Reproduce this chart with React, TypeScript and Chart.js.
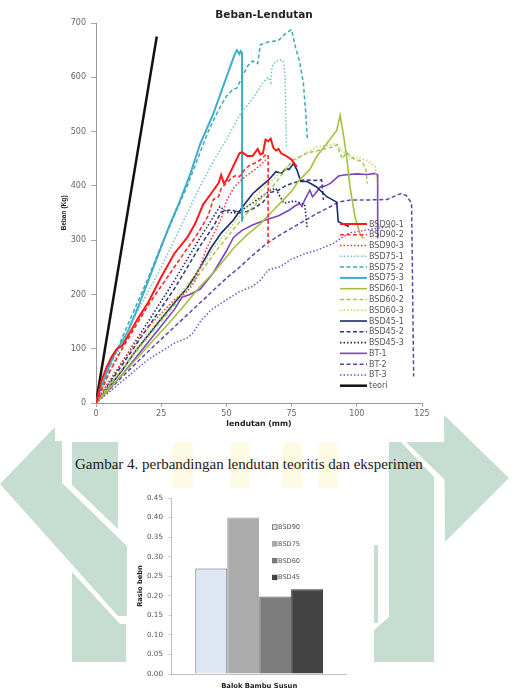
import React, { useEffect, useRef } from 'react';
import { Chart, registerables } from 'chart.js';

Chart.register(...registerables);

// ---------- Top chart data: [lendutan (mm), beban (kg)] ----------
const BSD90_1 = [[0,0],[2,40],[4,65],[6,85],[8,100],[10,105],[13,130],[16,155],[20,185],[25,232],[30,275],[35,305],[38,330],[41,365],[44,385],[47,405],[48,420],[49,405],[50,410],[52,430],[55,460],[56,462],[58,455],[60,455],[62,468],[63,458],[64,460],[65,485],[66,482],[67,487],[68,470],[69,465],[70,468],[71,460],[73,455],[75,448],[77,435]];
const BSD90_2 = [[0,0],[5,55],[10,100],[15,140],[20,180],[25,215],[30,250],[35,285],[38,305],[40,320],[43,345],[45,375],[47,380],[48,395],[50,405],[52,415],[54,420],[55,417],[57,430],[59,438],[61,442],[63,448],[65.5,459],[66,455],[66,288]];
const BSD90_3 = [[0,0],[5,40],[10,75],[15,110],[20,140],[25,165],[30,190],[35,205],[38,225],[42,280],[45,310],[48,340],[50,372],[53,398],[56,412],[58,420],[61,430],[63,438],[65.5,450]];
const BSD75_1 = [[0,0],[5,55],[10,110],[15,160],[20,205],[25,250],[30,300],[35,350],[40,400],[45,445],[50,485],[55,530],[60,560],[64,590],[66,600],[67,590],[67.5,620],[69,630],[71,632],[72,628],[72.5,600],[73,472]];
const BSD75_2 = [[0,0],[3,40],[6,75],[10,120],[15,175],[20,230],[25,290],[30,345],[35,400],[39,450],[43,500],[47,540],[50,565],[52.5,578],[54,580],[56,600],[58,620],[60,630],[62,625],[63,660],[66,665],[70,668],[72.5,680],[75,688],[76.5,655],[78,630],[79.5,590],[80.5,530],[81,487]];
const BSD75_3 = [[0,0],[2,30],[4,55],[6,80],[9,105],[12,130],[16,175],[20,225],[24,275],[28,325],[32,370],[36,420],[40,478],[45,533],[50,600],[53,640],[54,650],[55,643],[55.5,648],[56,645],[56,334]];
const BSD60_1 = [[0,0],[10,52],[20,105],[30,158],[40,215],[46,245],[52.7,285],[58,310],[63,330],[68,355],[72,375],[75,390],[78,411],[82,430],[84.6,454],[88.5,478],[92.3,502],[93.6,530],[95,490],[96.1,454],[97.4,398],[99.3,343],[101.2,312],[102.6,303]];
const BSD60_2 = [[0,0],[10,62],[20,122],[30,180],[40,240],[46,280],[52.7,320],[58,350],[63,375],[68,400],[72,425],[75.6,448],[80.8,460],[85.9,466],[91,472],[92.5,476],[93.5,460],[94.5,450],[96,462],[98,452],[100,448],[102,445],[103.5,430],[104,404]];
const BSD60_3 = [[0,0],[10,65],[20,128],[30,188],[40,248],[46,290],[52.7,330],[58,362],[63,390],[68,412],[72,430],[78.3,454],[84.7,472],[89.8,475],[92,478],[94,466],[97.5,454],[100,452],[103.9,447],[107.1,435],[107.7,404]];
const BSD45_1 = [[0,0],[5,30],[10,60],[15,95],[20,125],[25,155],[31,190],[35,212],[40,250],[44,285],[48,313],[52.7,337],[56,360],[60,385],[63,398],[66,410],[69,426],[71,423],[73,432],[74,430],[75.7,441],[77,430],[78.5,408],[81,408],[84.6,398],[88.5,380],[92.3,370],[92.9,334],[97,325]];
const BSD45_2 = [[0,0],[10,70],[20,140],[30,210],[35,250],[40,290],[45,325],[48,352],[52,356],[55,350],[58,353],[61,360],[64,370],[67,388],[70,392],[73,401],[79.5,411],[84,410],[86.5,411],[87.2,374]];
const BSD45_3 = [[0,0],[10,75],[20,150],[30,225],[35,265],[40,305],[44,335],[47.5,362],[50,352],[53,350],[56,356],[60,368],[64,382],[67,392],[69,395],[70,385],[72,368],[76,372],[80,366],[81,320]];
const BT_1 = [[0,0],[5,25],[10,52],[15,82],[20,112],[25,142],[30,172],[33,195],[36,200],[40,210],[45,240],[50,280],[52.7,305],[56,318],[60,328],[65,337],[70,345],[74,355],[76,362],[78,368],[79,362],[80,374],[82,392],[83,380],[84,385],[86,398],[88,400],[90,405],[93,418],[95,420],[100,422],[104,421],[107,423],[108,420],[108,303]];
const BT_2 = [[0,0],[10,48],[20,95],[30,140],[40,185],[50,230],[55,250],[60,272],[65.5,294],[70,308],[75,322],[80,336],[84.7,349],[90,362],[93,370],[97.5,374],[104,374],[111.6,375],[115,382],[117,386],[119,382],[121,368],[121.8,49]];
const BT_3 = [[0,0],[5,20],[10,40],[15,60],[20,80],[25,95],[30,110],[35,120],[37,128],[40,150],[44,171],[50,190],[55,205],[60,215],[63,226],[66,245],[70,250],[72,255],[75,265],[80,275],[85,282],[91,294],[97,313],[104,319],[110,323],[114,325]];
const TEORI = [[0,0],[23.3,675]];

const LINE_LABELS = ['BSD90-1','BSD90-2','BSD90-3','BSD75-1','BSD75-2','BSD75-3','BSD60-1','BSD60-2','BSD60-3','BSD45-1','BSD45-2','BSD45-3','BT-1','BT-2','BT-3','teori'];
const LINE_DATA = [BSD90_1,BSD90_2,BSD90_3,BSD75_1,BSD75_2,BSD75_3,BSD60_1,BSD60_2,BSD60_3,BSD45_1,BSD45_2,BSD45_3,BT_1,BT_2,BT_3,TEORI];
const X_TICKS = [0, 25, 50, 75, 100, 125];
const Y_TICKS = [0, 100, 200, 300, 400, 500, 600, 700];

// ---------- Bottom chart data ----------
const BAR_LABELS = ['BSD90', 'BSD75', 'BSD60', 'BSD45'];
const BAR_VALUES = [0.27, 0.40, 0.198, 0.217];

// ---------- styles ----------
const DASH = [4, 2.5];
const DOT = [1.5, 2];
const LINE_STYLES = [
  { color: '#ff1a1a', width: 2, dash: [] },
  { color: '#ff2a2a', width: 1.6, dash: DASH },
  { color: '#ff3b3b', width: 1.6, dash: DOT },
  { color: '#6fc3c8', width: 1.5, dash: DOT },
  { color: '#3fa9b5', width: 1.5, dash: DASH },
  { color: '#3aaecb', width: 2, dash: [] },
  { color: '#a5c040', width: 1.6, dash: [] },
  { color: '#a9c55a', width: 1.5, dash: DASH },
  { color: '#c5d76a', width: 1.6, dash: DOT },
  { color: '#1c2a6e', width: 1.6, dash: [] },
  { color: '#2a3880', width: 1.5, dash: DASH },
  { color: '#1f2560', width: 1.6, dash: DOT },
  { color: '#7b45c0', width: 1.6, dash: [] },
  { color: '#5b44b0', width: 1.5, dash: DASH },
  { color: '#7a55c0', width: 1.5, dash: DOT },
  { color: '#111111', width: 2.5, dash: [] },
];
const BAR_FILLS = ['#dde7f2', '#ababab', '#7d7d7d', '#434343'];
const BAR_BORDERS = ['#5a6275', '#9a9a9a', '#6a6a6a', '#333333'];

const topOverlay = {
  id: 'topOverlay',
  afterDraw(chart: any) {
    const ctx = chart.ctx;
    ctx.save();
    ctx.fillStyle = '#222';
    ctx.font = 'bold 10.5px "DejaVu Sans"';
    ctx.textAlign = 'center';
    ctx.textBaseline = 'middle';
    ctx.fillText('Beban-Lendutan', 209, 15);
    chart.data.datasets.forEach((ds: any, i: number) => {
      const y = 224 + i * 10.78;
      ctx.strokeStyle = ds.borderColor;
      ctx.lineWidth = ds.borderWidth;
      ctx.setLineDash(ds.borderDash || []);
      ctx.beginPath();
      ctx.moveTo(285, y);
      ctx.lineTo(312, y);
      ctx.stroke();
      ctx.setLineDash([]);
      ctx.fillStyle = '#555';
      ctx.font = '8px "DejaVu Sans"';
      ctx.textAlign = 'left';
      ctx.fillText(ds.label, 314, y + 0.5);
    });
    ctx.restore();
  },
};

const barLegend = {
  id: 'barLegend',
  afterDraw(chart: any) {
    const ctx = chart.ctx;
    ctx.save();
    chart.data.datasets.forEach((ds: any, i: number) => {
      const y = 39.3 + i * 16.8;
      ctx.fillStyle = ds.backgroundColor;
      ctx.fillRect(145.5, y - 2.5, 4.5, 4.5);
      ctx.strokeStyle = ds.borderColor;
      ctx.lineWidth = 0.8;
      ctx.strokeRect(145.5, y - 2.5, 4.5, 4.5);
      ctx.fillStyle = '#555';
      ctx.font = '6.6px "DejaVu Sans"';
      ctx.textAlign = 'left';
      ctx.textBaseline = 'middle';
      ctx.fillText(ds.label, 151, y);
    });
    ctx.restore();
  },
};

export default function App() {
  const topRef = useRef<HTMLCanvasElement>(null);
  const botRef = useRef<HTMLCanvasElement>(null);

  useEffect(() => {
    const tickFont = { family: '"DejaVu Sans"', size: 8 };
    const top = new Chart(topRef.current as HTMLCanvasElement, {
      type: 'scatter',
      data: {
        datasets: LINE_DATA.map((d, i) => ({
          label: LINE_LABELS[i],
          data: d.map(([x, y]) => ({ x, y })),
          borderColor: LINE_STYLES[i].color,
          backgroundColor: LINE_STYLES[i].color,
          borderWidth: LINE_STYLES[i].width,
          borderDash: LINE_STYLES[i].dash,
          showLine: true,
          pointRadius: 0,
          fill: false,
          tension: 0,
        })),
      },
      options: {
        responsive: false,
        animation: false,
        layout: { padding: { left: 0, top: 23, right: 21, bottom: 0 } },
        plugins: { legend: { display: false }, tooltip: { enabled: false }, title: { display: false } },
        scales: {
          x: {
            type: 'linear',
            min: X_TICKS[0],
            max: X_TICKS[X_TICKS.length - 1],
            afterBuildTicks: (s: any) => { s.ticks = X_TICKS.map((v) => ({ value: v })); },
            ticks: { font: tickFont, color: '#666', padding: 2, maxRotation: 0 },
            grid: { drawOnChartArea: false, tickLength: 4, color: '#aaa' },
            border: { color: '#999' },
            title: { display: true, text: 'lendutan (mm)', color: '#222', font: { family: '"DejaVu Sans"', size: 7.8, weight: 'bold' }, padding: { top: 0, bottom: 12.3 } },
            afterFit: (s: any) => { s.height = 38; },
          },
          y: {
            min: Y_TICKS[0],
            max: Y_TICKS[Y_TICKS.length - 1],
            afterBuildTicks: (s: any) => { s.ticks = Y_TICKS.map((v) => ({ value: v })); },
            ticks: { font: tickFont, color: '#666', padding: 5 },
            grid: { drawOnChartArea: false, tickLength: 5, color: '#aaa' },
            border: { color: '#999' },
            title: { display: true, text: 'Beban (Kg)', color: '#222', font: { family: '"Liberation Sans"', size: 6.6, weight: 'bold' }, padding: { top: 5, bottom: 0 } },
            afterFit: (s: any) => { s.width = 41; },
          },
        },
      } as any,
      plugins: [topOverlay],
    });

    const bot = new Chart(botRef.current as HTMLCanvasElement, {
      type: 'bar',
      data: {
        labels: ['Balok Bambu Susun'],
        datasets: BAR_LABELS.map((l, i) => ({
          label: l,
          data: [BAR_VALUES[i]],
          backgroundColor: BAR_FILLS[i],
          borderColor: BAR_BORDERS[i],
          borderWidth: 1,
          categoryPercentage: 0.73,
          barPercentage: 1,
        })),
      },
      options: {
        responsive: false,
        animation: false,
        layout: { padding: { left: 0, top: 4.7, right: 27.3, bottom: 0 } },
        plugins: { legend: { display: false }, tooltip: { enabled: false } },
        scales: {
          x: {
            ticks: { display: false },
            grid: { display: false },
            border: { display: true, color: '#c0c0c0' },
            title: { display: true, text: 'Balok Bambu Susun', color: '#222', font: { family: '"DejaVu Sans"', size: 6.8, weight: 'bold' }, padding: { top: 0, bottom: 0.9 } },
            afterFit: (s: any) => { s.height = 17; },
          },
          y: {
            min: 0,
            max: 0.45,
            ticks: { stepSize: 0.05, font: { family: '"DejaVu Sans"', size: 7.2 }, color: '#555', padding: 5.7, callback: (v: any) => Number(v).toFixed(2) },
            grid: { drawOnChartArea: false, tickLength: 3, color: '#c8c8c8' },
            border: { color: '#c0c0c0' },
            title: { display: true, text: 'Rasio bebn', color: '#222', font: { family: '"DejaVu Sans"', size: 6.7, weight: 'bold' }, padding: { top: 9, bottom: 0 } },
            afterFit: (s: any) => { s.width = 44.7; },
          },
        },
      } as any,
      plugins: [barLegend],
    });

    return () => {
      top.destroy();
      bot.destroy();
    };
  }, []);

  const G = '#c6ddd1';
  const Y = '#fefbe4';
  return (
    <div style={{ position: 'fixed', left: 0, top: 0, width: 519, height: 691, background: '#fff', overflow: 'hidden' }}>
      <svg width={519} height={691} style={{ position: 'absolute', left: 0, top: 0 }}>
        <polygon fill={G} points="0,484 55,427 62,434 62,483 127,546 127,616 118,616" />
        <polygon fill={G} points="72,442 118,442 118,529 72,485" />
        <polygon fill={G} points="72,572 120,624 126,624 126,662 72,662" />
        <polygon fill={G} points="444,415 509,478 445,542" />
        <polygon fill={G} points="406,442 445,442 445,480" />
        <polygon fill={G} points="389,442 401,442 434,477 434,662 389,662" />
        <polygon fill={G} points="374,630 389,617 389,662 374,662" />
        <polygon fill={G} points="374,545 378,545 378,623 374,623" />
        <rect x={172} y={442} width={21} height={48} rx={5} fill={Y} />
        <rect x={230} y={442} width={20} height={48} rx={5} fill={Y} />
        <rect x={282} y={442} width={20} height={48} rx={5} fill={Y} />
        <rect x={318} y={442} width={20} height={48} rx={5} fill={Y} />
      </svg>
      <canvas ref={topRef} width={388} height={441} style={{ position: 'absolute', left: 55, top: 0, width: 388, height: 441, background: '#fff', display: 'block' }} />
      <div style={{ position: 'absolute', left: 75, top: 456, fontFamily: '"Liberation Serif", serif', fontSize: 15, lineHeight: '17px', color: '#1a1a1a', whiteSpace: 'nowrap' }}>
        Gambar 4. perbandingan lendutan teoritis dan eksperimen
      </div>
      <canvas ref={botRef} width={247} height={203} style={{ position: 'absolute', left: 127, top: 488, width: 247, height: 203, background: '#fff', display: 'block' }} />
    </div>
  );
}
